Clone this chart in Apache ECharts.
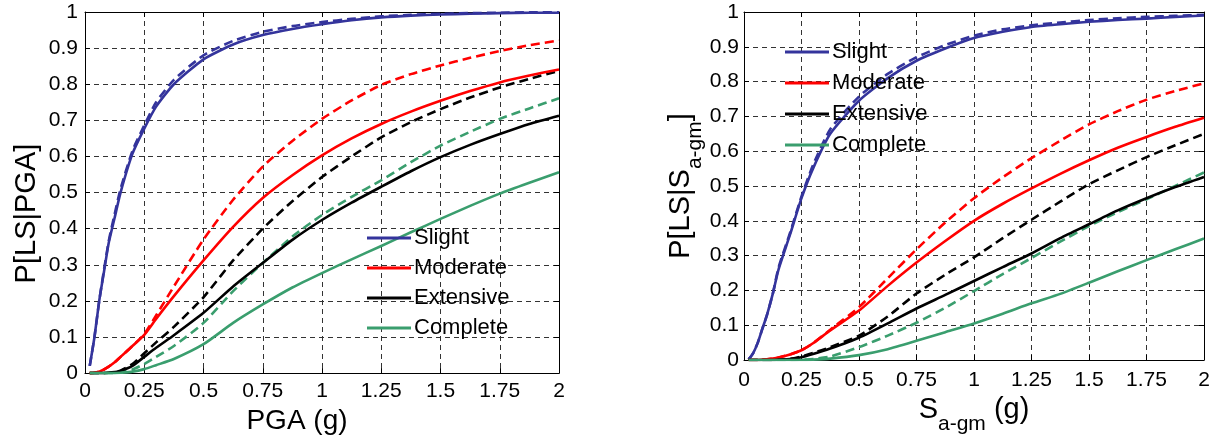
<!DOCTYPE html>
<html>
<head>
<meta charset="utf-8">
<script src="https://cdn.jsdelivr.net/npm/echarts@6/dist/echarts.min.js"></script>
<style>
  html, body { margin: 0; padding: 0; background: #ffffff; }
  #chart { width: 1215px; height: 440px; }
</style>
</head>
<body>
<div id="chart"></div>
<script>
// Shared sampling of the intensity measure (g)
const xs = [0.02, 0.04, 0.06, 0.08, 0.1, 0.125, 0.15, 0.2, 0.25, 0.3, 0.375, 0.5,
            0.625, 0.75, 0.875, 1.0, 1.125, 1.25, 1.375, 1.5, 1.625, 1.75, 1.875, 2.0];

// Fragility curves vs PGA: solid and dashed variant per limit state
const pgaSlight      = [0.02, 0.10, 0.20, 0.28, 0.36, 0.43, 0.50, 0.607, 0.677, 0.738, 0.800, 0.869, 0.910, 0.936, 0.953, 0.966, 0.977, 0.985, 0.990, 0.993, 0.995, 0.997, 0.998, 0.998];
const pgaSlightAlt   = [0.02, 0.10, 0.20, 0.285, 0.365, 0.44, 0.51, 0.615, 0.686, 0.750, 0.812, 0.880, 0.920, 0.945, 0.961, 0.972, 0.981, 0.988, 0.992, 0.995, 0.997, 0.998, 0.999, 0.999];
const pgaModerate    = [0, 0.001, 0.004, 0.010, 0.018, 0.030, 0.045, 0.075, 0.106, 0.150, 0.213, 0.312, 0.405, 0.485, 0.548, 0.603, 0.650, 0.690, 0.724, 0.754, 0.781, 0.805, 0.824, 0.841];
const pgaModerateAlt = [0, 0.001, 0.004, 0.010, 0.018, 0.030, 0.045, 0.075, 0.108, 0.160, 0.240, 0.370, 0.480, 0.572, 0.643, 0.704, 0.755, 0.798, 0.828, 0.852, 0.873, 0.892, 0.908, 0.921];
const pgaExtensive   = [0, 0, 0, 0, 0.001, 0.003, 0.006, 0.020, 0.045, 0.070, 0.105, 0.167, 0.240, 0.305, 0.369, 0.424, 0.472, 0.516, 0.559, 0.598, 0.632, 0.662, 0.690, 0.713];
const pgaExtensiveAlt= [0, 0, 0, 0, 0.001, 0.003, 0.007, 0.025, 0.055, 0.085, 0.128, 0.210, 0.312, 0.400, 0.476, 0.543, 0.600, 0.653, 0.695, 0.731, 0.763, 0.791, 0.815, 0.837];
const pgaComplete    = [0, 0, 0, 0, 0, 0, 0.001, 0.004, 0.011, 0.022, 0.039, 0.080, 0.139, 0.190, 0.237, 0.277, 0.315, 0.352, 0.390, 0.427, 0.463, 0.497, 0.527, 0.556];
const pgaCompleteAlt = [0, 0, 0, 0, 0, 0, 0.002, 0.010, 0.025, 0.045, 0.075, 0.139, 0.227, 0.305, 0.378, 0.438, 0.488, 0.534, 0.584, 0.630, 0.668, 0.704, 0.733, 0.761];

// Fragility curves vs geometric-mean spectral acceleration
const saSlight       = [0.002, 0.02, 0.05, 0.09, 0.13, 0.19, 0.26, 0.36, 0.465, 0.55, 0.65, 0.745, 0.81, 0.86, 0.895, 0.925, 0.943, 0.957, 0.965, 0.972, 0.977, 0.981, 0.986, 0.990];
const saSlightAlt    = [0.002, 0.02, 0.05, 0.09, 0.13, 0.19, 0.265, 0.365, 0.47, 0.56, 0.663, 0.757, 0.822, 0.87, 0.905, 0.932, 0.95, 0.962, 0.97, 0.977, 0.982, 0.986, 0.989, 0.992];
const saModerate     = [0, 0, 0, 0.001, 0.002, 0.004, 0.007, 0.016, 0.028, 0.048, 0.085, 0.142, 0.213, 0.280, 0.342, 0.400, 0.449, 0.493, 0.535, 0.574, 0.610, 0.641, 0.670, 0.696];
const saModerateAlt  = [0, 0, 0, 0.001, 0.002, 0.004, 0.007, 0.016, 0.028, 0.048, 0.087, 0.152, 0.235, 0.318, 0.395, 0.465, 0.525, 0.580, 0.630, 0.677, 0.715, 0.748, 0.773, 0.795];
const saExtensive    = [0, 0, 0, 0, 0, 0, 0.001, 0.003, 0.008, 0.017, 0.033, 0.064, 0.105, 0.148, 0.187, 0.227, 0.267, 0.306, 0.350, 0.390, 0.430, 0.465, 0.497, 0.526];
const saExtensiveAlt = [0, 0, 0, 0, 0, 0, 0.001, 0.003, 0.010, 0.020, 0.037, 0.070, 0.125, 0.191, 0.245, 0.295, 0.350, 0.403, 0.455, 0.505, 0.545, 0.583, 0.617, 0.650];
const saComplete     = [0, 0, 0, 0, 0, 0, 0, 0, 0, 0.001, 0.004, 0.014, 0.031, 0.055, 0.080, 0.105, 0.133, 0.163, 0.190, 0.222, 0.255, 0.287, 0.318, 0.349];
const saCompleteAlt  = [0, 0, 0, 0, 0, 0, 0, 0, 0.001, 0.003, 0.010, 0.037, 0.070, 0.107, 0.150, 0.198, 0.247, 0.293, 0.340, 0.385, 0.425, 0.462, 0.500, 0.539];

// Tick values
const xTicks = [0, 0.25, 0.5, 0.75, 1, 1.25, 1.5, 1.75, 2];
const yTicks = [0, 0.1, 0.2, 0.3, 0.4, 0.5, 0.6, 0.7, 0.8, 0.9, 1];

const stateNames  = ['Slight', 'Moderate', 'Extensive', 'Complete'];
const stateColors = ['#34349c', '#ff0000', '#000000', '#3a9e6e'];

const FONT = 'Liberation Sans';

const pgaSolid  = [pgaSlight, pgaModerate, pgaExtensive, pgaComplete];
const pgaDashed = [pgaSlightAlt, pgaModerateAlt, pgaExtensiveAlt, pgaCompleteAlt];
const saSolid   = [saSlight, saModerate, saExtensive, saComplete];
const saDashed  = [saSlightAlt, saModerateAlt, saExtensiveAlt, saCompleteAlt];

function curve(name, color, values, dashed, axisIdx) {
  return {
    type: 'line',
    name: name,
    xAxisIndex: axisIdx,
    yAxisIndex: axisIdx,
    data: xs.map((x, i) => [x, values[i]]),
    symbol: 'none',
    smooth: 0.2,
    lineStyle: { color: color, width: 2.6, type: dashed ? [9, 5] : 'solid', join: 'round' },
    itemStyle: { color: color },
    z: 3
  };
}

const series = [];
// dashed first so the solid curves sit on top where they coincide
for (let k = 0; k < 4; k++) series.push(curve(stateNames[k] + ' ', stateColors[k], pgaDashed[k], true, 0));
for (let k = 0; k < 4; k++) series.push(curve(stateNames[k], stateColors[k], pgaSolid[k], false, 0));
for (let k = 0; k < 4; k++) series.push(curve(stateNames[k] + ' ', stateColors[k], saDashed[k], true, 2));
for (let k = 0; k < 4; k++) series.push(curve(stateNames[k], stateColors[k], saSolid[k], false, 2));

const xStep = xTicks[1] - xTicks[0];
const yStep = yTicks[1] - yTicks[0];

function mainX(grid, name, nameGap, labelMargin) {
  return {
    type: 'value', gridIndex: grid, position: 'bottom',
    min: xTicks[0], max: xTicks[xTicks.length - 1], interval: xStep,
    name: name, nameLocation: 'middle', nameGap: nameGap,
    axisLine: { show: true, onZero: false, lineStyle: { color: '#000', width: 1 } },
    axisTick: { show: true, inside: true, length: 5, lineStyle: { color: '#000' } },
    axisLabel: { color: '#000', fontFamily: FONT, fontSize: 21, margin: labelMargin },
    splitLine: { show: true, lineStyle: { color: '#333', width: 1, type: [5, 4] } }
  };
}
function frameX(grid) {
  return {
    type: 'value', gridIndex: grid, position: 'top',
    min: xTicks[0], max: xTicks[xTicks.length - 1], interval: xStep,
    axisLine: { show: true, onZero: false, lineStyle: { color: '#000', width: 1 } },
    axisTick: { show: true, inside: true, length: 5, lineStyle: { color: '#000' } },
    axisLabel: { show: false }, splitLine: { show: false }
  };
}
function mainY(grid, name, nameGap, labelMargin) {
  return {
    type: 'value', gridIndex: grid, position: 'left',
    min: yTicks[0], max: yTicks[yTicks.length - 1], interval: yStep,
    name: name, nameLocation: 'middle', nameGap: nameGap,
    axisLine: { show: true, onZero: false, lineStyle: { color: '#000', width: 1 } },
    axisTick: { show: true, inside: true, length: 5, lineStyle: { color: '#000' } },
    axisLabel: { color: '#000', fontFamily: FONT, fontSize: 21, margin: labelMargin },
    splitLine: { show: true, lineStyle: { color: '#333', width: 1, type: [5, 4] } }
  };
}
function frameY(grid) {
  return {
    type: 'value', gridIndex: grid, position: 'right',
    min: yTicks[0], max: yTicks[yTicks.length - 1], interval: yStep,
    axisLine: { show: true, onZero: false, lineStyle: { color: '#000', width: 1 } },
    axisTick: { show: true, inside: true, length: 5, lineStyle: { color: '#000' } },
    axisLabel: { show: false }, splitLine: { show: false }
  };
}

const subRich = {
  m: { fontFamily: FONT, fontSize: 29, lineHeight: 30, color: '#000', verticalAlign: 'top' },
  s: { fontFamily: FONT, fontSize: 21, lineHeight: 21, color: '#000', verticalAlign: 'top', padding: [18, 0, 0, 0] }
};

const xA = mainX(0, 'PGA (g)', 26, 8);
xA.nameTextStyle = { color: '#000', fontFamily: FONT, fontSize: 28, padding: [0, 50, 0, 0] };
const yA = mainY(0, 'P[LS|PGA]', 44, 7);
yA.nameTextStyle = { color: '#000', fontFamily: FONT, fontSize: 29, padding: [0, 42, 0, 0] };

const xB = mainX(1, '{m|S}{s|a-gm}{m| (g)}', 26, 10);
xB.nameTextStyle = { rich: subRich };
const yB = mainY(1, '{m|P[LS|S}{s|a-gm}{m|]}', 40, 5);
yB.nameTextStyle = { rich: subRich };

function legendAt(left, top, gap) {
  return {
    orient: 'vertical', left: left, top: top,
    data: stateNames.map(n => ({ name: n, icon: 'rect' })),
    itemWidth: 44, itemHeight: 3, itemGap: gap,
    backgroundColor: 'transparent', borderWidth: 0, padding: 0,
    textStyle: { color: '#000', fontFamily: FONT, fontSize: 22, padding: [0, 0, 0, -2] },
    selectedMode: false
  };
}

const chart = echarts.init(document.getElementById('chart'), null, { renderer: 'canvas' });
chart.setOption({
  animation: false,
  backgroundColor: '#ffffff',
  grid: [
    { left: 85, top: 12, width: 474, height: 362, containLabel: false },
    { left: 744, top: 12, width: 460, height: 348, containLabel: false }
  ],
  xAxis: [xA, frameX(0), xB, frameX(1)],
  yAxis: [yA, frameY(0), yB, frameY(1)],
  legend: [legendAt(367, 227, 8), legendAt(785, 41, 9)],
  series: series
});
</script>
</body>
</html>
